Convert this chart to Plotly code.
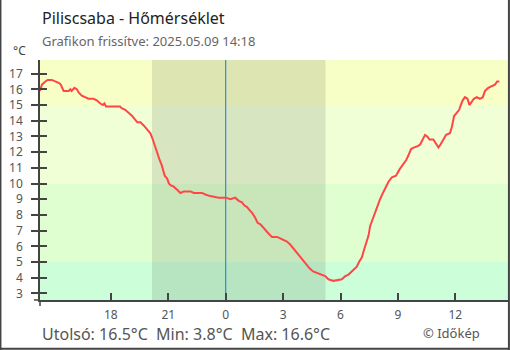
import plotly.graph_objects as go

# Hourly temperature record, Piliscsaba, 2025-05-08 14:18 -> 2025-05-09 14:18
times = [
    "2025-05-08 14:18", "2025-05-08 14:24", "2025-05-08 14:35", "2025-05-08 14:42",
    "2025-05-08 14:55", "2025-05-08 15:06", "2025-05-08 15:18", "2025-05-08 15:23",
    "2025-05-08 15:32", "2025-05-08 15:48", "2025-05-08 15:53", "2025-05-08 15:57",
    "2025-05-08 16:06", "2025-05-08 16:14", "2025-05-08 16:19", "2025-05-08 16:29",
    "2025-05-08 16:40", "2025-05-08 16:50", "2025-05-08 17:06", "2025-05-08 17:16",
    "2025-05-08 17:27", "2025-05-08 17:35", "2025-05-08 17:40", "2025-05-08 17:45",
    "2025-05-08 18:29", "2025-05-08 18:34", "2025-05-08 18:45", "2025-05-08 18:55",
    "2025-05-08 19:07", "2025-05-08 19:23", "2025-05-08 19:33", "2025-05-08 19:43",
    "2025-05-08 19:54", "2025-05-08 20:04", "2025-05-08 20:10", "2025-05-08 20:15",
    "2025-05-08 20:22", "2025-05-08 20:28", "2025-05-08 20:33", "2025-05-08 20:39",
    "2025-05-08 20:44", "2025-05-08 20:49", "2025-05-08 20:57", "2025-05-08 21:02",
    "2025-05-08 21:07", "2025-05-08 21:17", "2025-05-08 21:28", "2025-05-08 21:38",
    "2025-05-08 21:49", "2025-05-08 22:10", "2025-05-08 22:20", "2025-05-08 22:46",
    "2025-05-08 22:56", "2025-05-08 23:12", "2025-05-08 23:38",
    "2025-05-09 00:00", "2025-05-09 00:15", "2025-05-09 00:25", "2025-05-09 00:30",
    "2025-05-09 00:41", "2025-05-09 00:51", "2025-05-09 00:59", "2025-05-09 01:07",
    "2025-05-09 01:15", "2025-05-09 01:24", "2025-05-09 01:33", "2025-05-09 01:40",
    "2025-05-09 01:49", "2025-05-09 01:57", "2025-05-09 02:04", "2025-05-09 02:15",
    "2025-05-09 02:25", "2025-05-09 02:41", "2025-05-09 02:51", "2025-05-09 03:02",
    "2025-05-09 03:12", "2025-05-09 03:23", "2025-05-09 03:31", "2025-05-09 03:38",
    "2025-05-09 03:45", "2025-05-09 03:54", "2025-05-09 04:02", "2025-05-09 04:13",
    "2025-05-09 04:23", "2025-05-09 04:34", "2025-05-09 04:46", "2025-05-09 04:56",
    "2025-05-09 05:12", "2025-05-09 05:22", "2025-05-09 05:38", "2025-05-09 06:04",
    "2025-05-09 06:15", "2025-05-09 06:25", "2025-05-09 06:30", "2025-05-09 06:41",
    "2025-05-09 06:51", "2025-05-09 06:58", "2025-05-09 07:07", "2025-05-09 07:14",
    "2025-05-09 07:20", "2025-05-09 07:28", "2025-05-09 07:33", "2025-05-09 07:40",
    "2025-05-09 07:49", "2025-05-09 07:56", "2025-05-09 08:04", "2025-05-09 08:13",
    "2025-05-09 08:22", "2025-05-09 08:30", "2025-05-09 08:41", "2025-05-09 08:54",
    "2025-05-09 09:05", "2025-05-09 09:15", "2025-05-09 09:26", "2025-05-09 09:33",
    "2025-05-09 09:41", "2025-05-09 09:51", "2025-05-09 10:04", "2025-05-09 10:10",
    "2025-05-09 10:18", "2025-05-09 10:25", "2025-05-09 10:32", "2025-05-09 10:39",
    "2025-05-09 10:51", "2025-05-09 10:59", "2025-05-09 11:07", "2025-05-09 11:14",
    "2025-05-09 11:22", "2025-05-09 11:31", "2025-05-09 11:43", "2025-05-09 11:49",
    "2025-05-09 11:56", "2025-05-09 12:04", "2025-05-09 12:12", "2025-05-09 12:17",
    "2025-05-09 12:23", "2025-05-09 12:30", "2025-05-09 12:38", "2025-05-09 12:44",
    "2025-05-09 12:51", "2025-05-09 12:58", "2025-05-09 13:07", "2025-05-09 13:17",
    "2025-05-09 13:26", "2025-05-09 13:33", "2025-05-09 13:43", "2025-05-09 13:54",
    "2025-05-09 14:04", "2025-05-09 14:11", "2025-05-09 14:18",
]
temps = [
    15.9, 16.3, 16.5, 16.6,
    16.6, 16.5, 16.4, 16.3,
    15.9, 15.9, 16.0, 15.9,
    16.1, 16.0, 15.8, 15.6,
    15.5, 15.4, 15.4, 15.3,
    15.1, 15.0, 15.1, 14.9,
    14.9, 14.8, 14.7, 14.5,
    14.3, 13.9, 13.9, 13.7,
    13.4, 13.2, 12.9, 12.6,
    12.1, 11.7, 11.5, 11.2,
    10.9, 10.5, 10.3, 10.0,
    9.9, 9.8, 9.6, 9.4,
    9.5, 9.5, 9.4, 9.4,
    9.3, 9.2, 9.1,
    9.1, 9.0, 9.1, 9.1,
    8.9, 8.8, 8.6, 8.5,
    8.3, 8.1, 7.8, 7.5,
    7.4, 7.2, 7.0, 6.8,
    6.6, 6.6, 6.5, 6.4,
    6.3, 6.1, 5.9, 5.7,
    5.5, 5.3, 5.1, 4.8,
    4.6, 4.4, 4.3, 4.2,
    4.1, 3.9, 3.8, 3.9,
    4.1, 4.2, 4.3, 4.5,
    4.7, 5.0, 5.3, 5.8,
    6.2, 6.7, 7.3, 7.7,
    8.1, 8.5, 9.0, 9.4,
    9.8, 10.1, 10.4, 10.5,
    10.9, 11.2, 11.5, 11.8,
    12.2, 12.3, 12.4, 12.5,
    12.8, 13.1, 13.0, 12.8,
    12.8, 12.5, 12.3, 12.5,
    12.8, 13.1, 13.2, 13.6,
    14.3, 14.5, 14.7, 15.0,
    15.3, 15.5, 15.4, 15.0,
    15.2, 15.4, 15.5, 15.4,
    15.5, 15.9, 16.1, 16.2,
    16.3, 16.5, 16.5,
]

# Axis ticks
tick_times = ["2025-05-08 18:00", "2025-05-08 21:00", "2025-05-09 00:00",
              "2025-05-09 03:00", "2025-05-09 06:00", "2025-05-09 09:00",
              "2025-05-09 12:00"]
tick_labels = ["18", "21", "0", "3", "6", "9", "12"]
y_ticks = list(range(3, 18))

# Temperature bands (lower, upper, colour)
band_edges = [2.58, 5, 10, 15, 17.87]
band_colors = ["#ccffd9", "#e0ffd0", "#f0ffd6", "#f7ffc7"]

# Night (sunset -> sunrise) and midnight marker
night_start = "2025-05-08 20:09"
night_end = "2025-05-09 05:13"
midnight = "2025-05-09 00:00"

x_range = ["2025-05-08 14:18", "2025-05-09 14:45"]
y_range = [band_edges[0], band_edges[-1]]

FONT = "Noto Sans"

fig = go.Figure()
fig.add_trace(go.Scatter(
    x=times, y=temps, mode="lines",
    line=dict(color="#ff4646", width=2),
    hoverinfo="skip", showlegend=False,
))
# invisible trace to drive the inside tick marks on the secondary y axis
fig.add_trace(go.Scatter(x=[times[0]], y=[temps[0]], yaxis="y2",
                         mode="markers", marker=dict(opacity=0),
                         hoverinfo="skip", showlegend=False))

shapes = []
for lo, hi, col in zip(band_edges[:-1], band_edges[1:], band_colors):
    shapes.append(dict(type="rect", xref="paper", yref="y", x0=0, x1=1,
                       y0=lo, y1=hi, fillcolor=col, line_width=0, layer="below"))
shapes.append(dict(type="rect", xref="x", yref="paper", x0=night_start, x1=night_end,
                   y0=0, y1=1, fillcolor="rgba(0,0,0,0.1)", line_width=0, layer="below"))
shapes.append(dict(type="line", xref="x", yref="paper", x0=midnight, x1=midnight,
                   y0=0, y1=1, line=dict(color="#2b8ae6", width=1.2), layer="below"))
# axis line overhang past the corner
shapes.append(dict(type="line", xref="paper", yref="paper", x0=-0.013, x1=0,
                   y0=0, y1=0, line=dict(color="#444", width=1.5)))
shapes.append(dict(type="line", xref="paper", yref="paper", x0=0, x1=0,
                   y0=0, y1=-0.025, line=dict(color="#444", width=1.5)))
# frame
shapes.append(dict(type="line", xref="paper", yref="paper", x0=-0.0845, x1=-0.0845,
                   y0=-0.21, y1=1.25, line=dict(color="#444", width=2)))
shapes.append(dict(type="line", xref="paper", yref="paper", x0=1.002, x1=1.002,
                   y0=-0.21, y1=1.25, line=dict(color="#444", width=2)))
shapes.append(dict(type="line", xref="paper", yref="paper", x0=-0.0845, x1=1.002,
                   y0=-0.2035, y1=-0.2035, line=dict(color="#444", width=2)))

summary = "Utolsó: {:.1f}°C  Min: {:.1f}°C  Max: {:.1f}°C".format(
    temps[-1], min(temps), max(temps))

annotations = [
    dict(text="Piliscsaba - Hőmérséklet", x=0, y=1.175, xref="paper", yref="paper",
         xanchor="left", yanchor="middle", showarrow=False,
         font=dict(family=FONT, size=16, color="#222")),
    dict(text="Grafikon frissítve: 2025.05.09 14:18", x=0, y=1.079, xref="paper",
         yref="paper", xanchor="left", yanchor="middle", showarrow=False,
         font=dict(family=FONT, size=13, color="#666")),
    dict(text="°C", x=-0.062, y=1.04, xref="paper", yref="paper",
         xanchor="left", yanchor="middle", showarrow=False,
         font=dict(family=FONT, size=12, color="#444")),
    dict(text=summary, x=0, y=-0.142, xref="paper", yref="paper",
         xanchor="left", yanchor="middle", showarrow=False,
         font=dict(family=FONT, size=16, color="#555")),
    dict(text="© Időkép", x=0.944, y=-0.138, xref="paper", yref="paper",
         xanchor="right", yanchor="middle", showarrow=False,
         font=dict(family=FONT, size=13, color="#555")),
]

fig.update_layout(
    width=510, height=350,
    margin=dict(l=40, r=2, t=60, b=50),
    paper_bgcolor="white", plot_bgcolor="white",
    shapes=shapes, annotations=annotations,
    font=dict(family=FONT, size=12, color="#555"),
    xaxis=dict(type="date", range=x_range, tickvals=tick_times, ticktext=tick_labels,
               ticks="inside", ticklen=7, tickcolor="#444", tickwidth=1.5,
               showline=True, linecolor="#444", linewidth=1.5,
               showgrid=False, zeroline=False, ticklabelstandoff=3,
               tickfont=dict(family=FONT, size=12, color="#555")),
    yaxis=dict(range=y_range, tickvals=y_ticks, ticks="outside", ticklen=7,
               tickcolor="#444", tickwidth=1.5, showline=True, linecolor="#444",
               linewidth=1.5, showgrid=False, zeroline=False, ticklabelstandoff=6,
               tickfont=dict(family=FONT, size=12, color="#555")),
    yaxis2=dict(range=y_range, tickvals=y_ticks, ticks="inside", ticklen=7,
                tickcolor="#444", tickwidth=1.5, showticklabels=False,
                overlaying="y", side="left", showgrid=False, zeroline=False,
                showline=False),
)

fig.write_html("out.html")
